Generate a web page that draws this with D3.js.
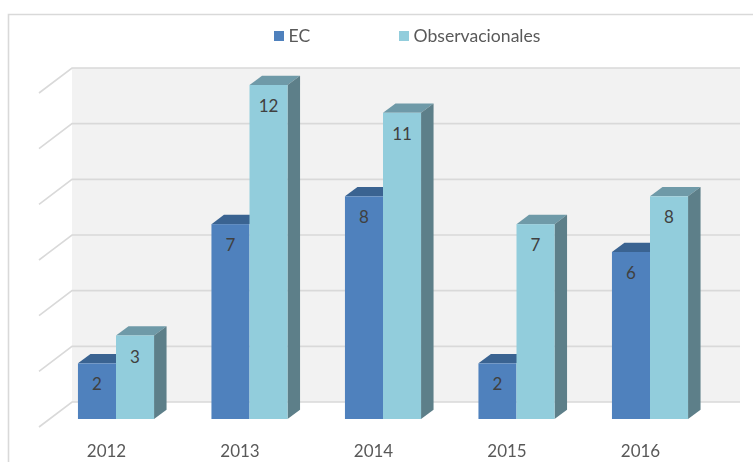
<!DOCTYPE html>
<html>
<head>
<meta charset="utf-8">
<script src="https://cdn.jsdelivr.net/npm/d3@7"></script>
<style>
  html, body { margin: 0; padding: 0; background: #fff; overflow: hidden; }
  svg { display: block; filter: blur(0.5px); }
  text { font-family: Lato, "Open Sans", sans-serif; fill: #595959; }
</style>
</head>
<body>
<script>
var categories = ["2012", "2013", "2014", "2015", "2016"],
    seriesNames = ["EC", "Observacionales"],
    ecValues = [2, 7, 8, 2, 6],
    obsValues = [3, 12, 11, 7, 8],
    gridTicks = [0, 2, 4, 6, 8, 10, 12];

var width = 753, height = 462,
    depthX = 12.5, depthY = 9.3,       // bar depth
    wallX = 33, wallY = 17;            // offset of the back wall

var colours = {
  EC: { front: "#4f81bd", top: "#3a6391" },
  Observacionales: { front: "#92cddc", top: "#6f9aa8", side: "#5d7f89" }
};

var rows = categories.map(function(c, i) {
  return { year: c, EC: ecValues[i], Observacionales: obsValues[i] };
});

var x0 = d3.scaleBand().domain(categories).range([49.25, 716.75]).paddingInner(0.43).paddingOuter(0.215),
    x1 = d3.scaleBand().domain(seriesNames).range([0, x0.bandwidth()]),
    y = d3.scaleLinear().domain([0, 12]).range([419, 85]);

var svg = d3.select("body").append("svg").attr("width", width).attr("height", height);

// chart frame, runs off the right and bottom of the picture
svg.append("path")
  .attr("d", "M8.5," + height + "V14.5H" + width)
  .attr("fill", "none").attr("stroke", "#d9d9d9").attr("stroke-width", 1.6);

// back wall
svg.append("rect")
  .attr("x", 72).attr("y", y(12) - wallY)
  .attr("width", 668).attr("height", y(0) - y(12))
  .attr("fill", "#f2f2f2");

var grid = svg.append("g").attr("fill", "none").attr("stroke", "#d9d9d9").attr("stroke-width", 1.6);
grid.selectAll("path")
  .data(gridTicks)
  .enter().append("path")
    .attr("d", function(d) {
      return "M39," + (y(d) + 8) + "L72," + (y(d) - wallY) + "H740";
    });

// bars
var groups = svg.selectAll(".year")
  .data(rows)
  .enter().append("g")
    .attr("class", "year")
    .attr("transform", function(d) { return "translate(" + x0(d.year) + ",0)"; });

seriesNames.forEach(function(name) {
  var bw = x1.bandwidth(), c = colours[name];
  var bar = groups.append("g").attr("transform", "translate(" + x1(name) + ",0)");

  bar.append("path")
    .attr("fill", c.top)
    .attr("d", function(d) {
      var t = y(d[name]);
      return "M0," + t + "L" + depthX + "," + (t - depthY) + "H" + (bw + depthX) + "L" + bw + "," + t + "Z";
    });

  if (c.side) {
    bar.append("path")
      .attr("fill", c.side)
      .attr("d", function(d) {
        var t = y(d[name]);
        return "M" + bw + "," + t + "L" + (bw + depthX) + "," + (t - depthY) +
               "V" + (y(0) - depthY) + "L" + bw + "," + y(0) + "Z";
      });
  }

  bar.append("rect")
    .attr("width", bw)
    .attr("y", function(d) { return y(d[name]); })
    .attr("height", function(d) { return y(0) - y(d[name]); })
    .attr("fill", c.front);

  bar.append("text")
    .attr("x", bw / 2)
    .attr("y", function(d) { return y(d[name]) + 27; })
    .attr("text-anchor", "middle")
    .attr("font-size", 17)
    .style("fill", "#404040")
    .text(function(d) { return d[name]; });
});

// category labels, sit left of the bars because of the 3d shift
var axis = svg.append("g")
  .attr("transform", "translate(-9.5,442)")
  .call(d3.axisBottom(x0).tickSize(0).tickPadding(0));
axis.select(".domain").remove();
axis.selectAll("text")
  .attr("font-size", 17).attr("font-family", null).attr("dy", "0.42em").attr("y", 8);

// legend
var legendX = d3.scaleOrdinal().domain(seriesNames).range([274, 399]);
var legend = svg.selectAll(".legend")
  .data(seriesNames)
  .enter().append("g")
    .attr("class", "legend")
    .attr("transform", function(d) { return "translate(" + legendX(d) + ",31)"; });
legend.append("rect").attr("width", 10).attr("height", 10)
  .attr("fill", function(d) { return colours[d].front; });
legend.append("text").attr("x", 14.5).attr("y", 10.5).attr("font-size", 17.6)
  .text(function(d) { return d; });
</script>
</body>
</html>
